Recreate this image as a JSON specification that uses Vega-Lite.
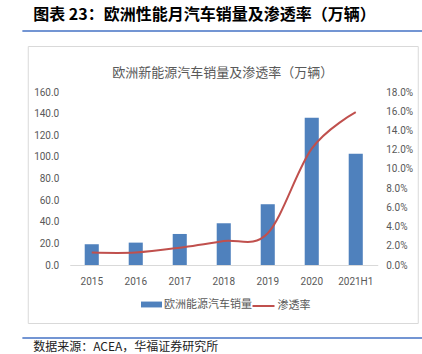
{
  "$schema": "https://vega.github.io/schema/vega-lite/v6.json",
  "background": "white",
  "padding": {"left": 22, "top": 6, "right": 0, "bottom": 0},
  "config": {
    "font": "Noto Sans CJK SC",
    "axis": {"labelFont": "Roboto", "labelColor": "#595959", "labelFontSize": 10, "grid": false, "title": null},
    "legend": {"labelFont": "Noto Sans CJK SC", "labelColor": "#595959", "labelFontSize": 11}
  },
  "center": true,
  "spacing": 13,
  "vconcat": [
    {
      "width": 399,
      "height": 0.01,
      "view": {"stroke": "#4472c4", "strokeWidth": 1.5},
      "title": {"text": "图表 23：欧洲性能月汽车销量及渗透率（万辆）", "anchor": "start", "dx": 10, "fontSize": 16, "fontWeight": "bold", "color": "#000000", "offset": 8, "font": "Noto Sans CJK SC"},
      "mark": {"type": "rule", "opacity": 0},
      "encoding": {}
    },
    {
      "width": 390,
      "height": 277,
      "view": {"stroke": "#d9d9d9"},
      "title": {"text": "欧洲新能源汽车销量及渗透率（万辆）", "anchor": "middle", "fontSize": 13, "fontWeight": "normal", "color": "#595959", "offset": -34, "font": "Noto Sans CJK SC"},
      "data": {"values": [
        {"year": "2015", "sales": 19.2, "rate": 0.013},
        {"year": "2016", "sales": 20.7, "rate": 0.013},
        {"year": "2017", "sales": 28.7, "rate": 0.018},
        {"year": "2018", "sales": 38.6, "rate": 0.025},
        {"year": "2019", "sales": 56.2, "rate": 0.033},
        {"year": "2020", "sales": 136.2, "rate": 0.121},
        {"year": "2021H1", "sales": 102.9, "rate": 0.159}
      ]},
      "encoding": {
        "x": {"field": "year", "type": "ordinal", "sort": null,
          "scale": {"range": [42, 350], "paddingInner": 0.68, "paddingOuter": 0.34},
          "axis": {"labelAngle": 0, "offset": -58, "ticks": false, "domainColor": "#d9d9d9", "labelPadding": 11}}
      },
      "layer": [
        {
          "mark": {"type": "bar"},
          "encoding": {
            "y": {"field": "sales", "type": "quantitative",
              "scale": {"domain": [0, 160], "range": [219, 46], "nice": false},
              "axis": {"orient": "left", "offset": -31, "domain": false, "ticks": false, "labelPadding": 0, "values": [0, 20, 40, 60, 80, 100, 120, 140, 160], "format": ".1f"}},
            "fill": {"datum": "欧洲能源汽车销量", "scale": {"range": ["#4f81bd"]},
              "legend": {"title": null, "orient": "none", "legendX": 118, "legendY": 263, "symbolType": "M-1,-0.28H1V0.28H-1Z", "symbolSize": 441, "symbolStrokeWidth": 0, "labelOffset": 2}}
          }
        },
        {
          "mark": {"type": "line", "interpolate": "cardinal", "strokeWidth": 2},
          "encoding": {
            "y": {"field": "rate", "type": "quantitative",
              "scale": {"domain": [0, 0.18], "range": [219, 46], "nice": false},
              "axis": {"orient": "right", "offset": -32, "domain": false, "ticks": false, "labelPadding": 0, "values": [0, 0.02, 0.04, 0.06, 0.08, 0.1, 0.12, 0.14, 0.16, 0.18], "format": ".1%"}},
            "stroke": {"datum": "渗透率", "scale": {"range": ["#c0504d"]},
              "legend": {"title": null, "orient": "none", "legendX": 228.5, "legendY": 263, "symbolType": "stroke", "symbolSize": 484, "symbolStrokeWidth": 2, "labelOffset": 2}}
          }
        }
      ],
      "resolve": {"scale": {"y": "independent"}}
    },
    {
      "width": 399,
      "height": 0.01,
      "view": {"stroke": "#4472c4", "strokeWidth": 1.5},
      "title": {"text": "数据来源：ACEA，华福证券研究所", "orient": "bottom", "anchor": "start", "dx": 10, "fontSize": 12, "fontWeight": "normal", "color": "#222222", "offset": 4, "font": "Noto Sans CJK SC"},
      "mark": {"type": "rule", "opacity": 0},
      "encoding": {}
    }
  ]
}
